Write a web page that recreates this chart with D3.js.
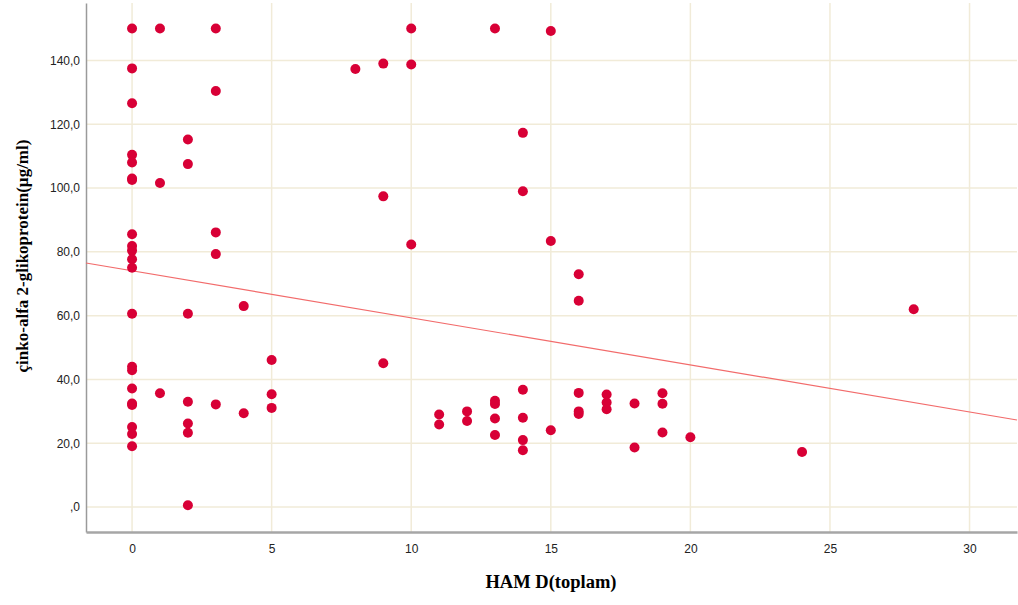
<!DOCTYPE html>
<html>
<head>
<meta charset="utf-8">
<script src="https://cdn.jsdelivr.net/npm/d3@7"></script>
<style>
body{margin:0;background:#fff}
</style>
</head>
<body>
<script>
// HAM D score vs zinc-alpha 2-glycoprotein
let hamD=[0,0,0,0,0,0,0,0,0,0,0,0,0,0,0,0,0,0,0,0,0,
  1,1,1,
  2,2,2,2,2,2,2,
  3,3,3,3,3,
  4,4,
  5,5,5,
  8,9,9,9,
  10,10,10,
  11,11,12,12,
  13,13,13,13,13,
  14,14,14,14,14,14,
  15,15,15,
  16,16,16,16,16,
  17,17,17,
  18,18,
  19,19,19,
  20,24,28]
let zag=[150,137.5,126.6,110.4,108,103,102.5,85.5,81.8,80.4,77.7,75,60.6,44,42.9,37.2,32.5,32,25.1,22.9,19.1,
  150,101.6,35.7,
  115.2,107.5,60.6,33,26.2,23.3,0.6,
  150,130.4,86.1,79.3,32.2,
  63,29.4,
  46.1,35.4,31.1,
  137.3,139,97.4,45.1,
  150,138.7,82.3,
  29,25.9,30,27,
  150,33.3,32.3,27.8,22.6,
  117.3,99,36.8,28,21,17.8,
  149.2,83.4,24.1,
  73,64.7,35.8,30,29.2,
  35.3,32.8,30.7,
  32.5,18.7,
  35.7,32.4,23.4,
  21.9,17.3,62]

let xTicks=[0,5,10,15,20,25,30]
let yTicks=[0,20,40,60,80,100,120,140]
let fitLine=[74.07,-1.475] // intercept, slope

let width=1018,height=605
let pLeft=86,pRight=1017,pTop=3,pBottom=532

var svg=d3.select('body').append('svg').attr('width',width).attr('height',height)

let x=d3.scaleLinear().domain([-1.65,31.7]).range([pLeft,pRight])
let y=d3.scaleLinear().domain([-7.8,158]).range([pBottom,pTop])

// grid
svg.append('g').selectAll('line').data(yTicks).join('line')
  .attr('x1',pLeft).attr('x2',pRight)
  .attr('y1',d=>y(d)).attr('y2',d=>y(d))
  .attr('stroke','#f1ebd8').attr('stroke-width',1.5)
svg.append('g').selectAll('line').data(xTicks).join('line')
  .attr('y1',pTop).attr('y2',pBottom)
  .attr('x1',d=>x(d)).attr('x2',d=>x(d))
  .attr('stroke','#f1ebd8').attr('stroke-width',1.5)

// axes
let fmt=d=>d==0?',0':d3.format('.1f')(d).replace('.',',')
let yAxis=d3.axisLeft(y).tickValues(yTicks).tickFormat(fmt).tickSize(0).tickPadding(6)
let xAxis=d3.axisBottom(x).tickValues(xTicks).tickFormat(d3.format('d')).tickSize(0).tickPadding(12)

let gy=svg.append('g').attr('transform','translate('+pLeft+',0)').call(yAxis)
let gx=svg.append('g').attr('transform','translate(0,'+pBottom+')').call(xAxis)
gy.select('.domain').attr('stroke','#9a9a9a').attr('stroke-width',1.5)
gx.select('.domain').attr('stroke','#a6a6a6').attr('stroke-width',2.5)
svg.selectAll('.tick text').attr('font-family','Liberation Sans, Arial, sans-serif').attr('font-size',12).attr('fill','#222')

// fit line
let fx=x.domain()
svg.append('line')
  .attr('x1',x(fx[0])).attr('y1',y(fitLine[0]+fitLine[1]*fx[0]))
  .attr('x2',x(fx[1])).attr('y2',y(fitLine[0]+fitLine[1]*fx[1]))
  .attr('stroke','#f26b6b').attr('stroke-width',1.2)

// points
svg.append('g').selectAll('circle').data(d3.range(hamD.length)).join('circle')
  .attr('cx',i=>x(hamD[i])).attr('cy',i=>y(zag[i]))
  .attr('r',5).attr('fill','#d80036')

// titles
svg.append('text').text('HAM D(toplam)')
  .attr('x',551).attr('y',588).attr('text-anchor','middle')
  .attr('font-family','Liberation Serif, Times New Roman, serif').attr('font-weight','bold').attr('font-size',18.5)
svg.append('text').text('çinko-alfa 2-glikoprotein(µg/ml)')
  .attr('transform','translate(28,'+256+') rotate(-90)').attr('text-anchor','middle')
  .attr('font-family','Liberation Serif, Times New Roman, serif').attr('font-weight','bold').attr('font-size',17)
</script>
</body>
</html>
